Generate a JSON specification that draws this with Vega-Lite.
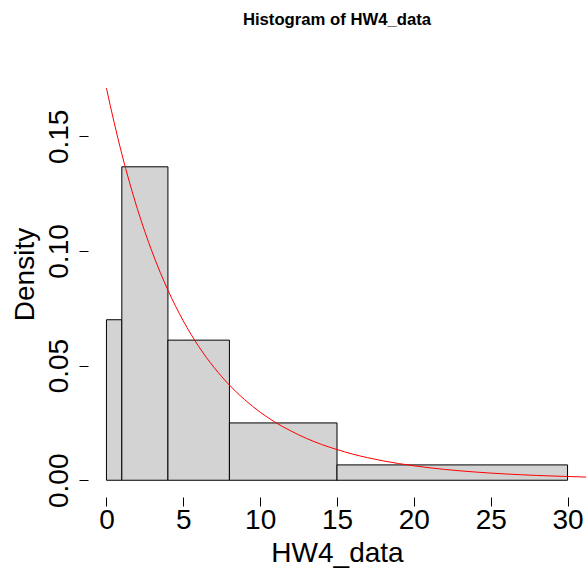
{
  "$schema": "https://vega.github.io/schema/vega-lite/v6.json",
  "autosize": {"type": "none"},
  "padding": {"left": 88, "top": 51, "right": 0, "bottom": 74},
  "width": 498,
  "height": 446,
  "background": "white",
  "config": {
    "view": {"stroke": null},
    "font": "Liberation Sans",
    "axis": {"grid": false, "domain": false, "tickColor": "black", "tickWidth": 1, "tickSize": 9, "labelColor": "black", "titleColor": "black", "labelFont": "Liberation Sans", "titleFont": "Liberation Sans", "labelFontSize": 28, "titleFontSize": 28, "titleFontWeight": "normal"}
  },
  "title": {"text": "Histogram of HW4_data", "anchor": "middle", "frame": "group", "fontSize": 16.7, "fontWeight": "bold", "font": "Liberation Sans", "color": "black", "baseline": "alphabetic", "offset": 9},
  "datasets": {
    "bins": [
      {"lo": 0, "hi": 1, "density": 0.07},
      {"lo": 1, "hi": 4, "density": 0.1367},
      {"lo": 4, "hi": 8, "density": 0.0611},
      {"lo": 8, "hi": 15, "density": 0.025},
      {"lo": 15, "hi": 30, "density": 0.0067}
    ],
    "curve": [
      {"x": 0, "y": 0.171},
      {"x": 0.5, "y": 0.156},
      {"x": 1, "y": 0.1423},
      {"x": 1.5, "y": 0.1299},
      {"x": 2, "y": 0.1186},
      {"x": 3, "y": 0.0991},
      {"x": 4, "y": 0.0829},
      {"x": 5, "y": 0.0695},
      {"x": 6, "y": 0.0584},
      {"x": 7, "y": 0.0492},
      {"x": 8, "y": 0.0415},
      {"x": 9, "y": 0.0351},
      {"x": 10, "y": 0.0297},
      {"x": 11, "y": 0.0252},
      {"x": 12, "y": 0.0215},
      {"x": 13, "y": 0.0183},
      {"x": 14, "y": 0.0156},
      {"x": 15, "y": 0.0134},
      {"x": 16, "y": 0.01144},
      {"x": 17, "y": 0.00983},
      {"x": 18, "y": 0.00846},
      {"x": 19, "y": 0.0073},
      {"x": 20, "y": 0.00631},
      {"x": 21, "y": 0.00546},
      {"x": 22, "y": 0.00474},
      {"x": 23, "y": 0.00412},
      {"x": 24, "y": 0.00359},
      {"x": 25, "y": 0.00313},
      {"x": 26, "y": 0.00274},
      {"x": 27, "y": 0.0024},
      {"x": 28, "y": 0.00211},
      {"x": 29, "y": 0.00186},
      {"x": 30, "y": 0.00164},
      {"x": 31.2, "y": 0.00141}
    ]
  },
  "layer": [
    {
      "data": {"name": "bins"},
      "mark": {"type": "rect", "fill": "#D3D3D3", "stroke": "black", "strokeWidth": 1},
      "encoding": {
        "x": {"field": "lo", "type": "quantitative", "scale": {"domain": [-1.2, 31.2], "nice": false, "zero": false},
              "axis": {"values": [0, 5, 10, 15, 20, 25, 30], "title": "HW4_data", "labelPadding": 0, "labelBaseline": "top", "offset": 0, "titleBaseline": "alphabetic", "titleY": 64.4, "titleX": 249}},
        "x2": {"field": "hi"},
        "y": {"field": "density", "type": "quantitative", "scale": {"domain": [-0.0073, 0.1872], "nice": false, "zero": false},
              "axis": {"values": [0, 0.05, 0.1, 0.15], "format": ".2f", "title": "Density", "labelAngle": -90, "labelAlign": "center", "labelBaseline": "alphabetic", "labelPadding": 12, "titleAngle": -90, "titleBaseline": "alphabetic", "titleX": -54.5, "titleY": 223}},
        "y2": {"datum": 0}
      }
    },
    {
      "data": {"name": "curve"},
      "mark": {"type": "line", "color": "#FF0000", "strokeWidth": 1, "interpolate": "monotone", "clip": true},
      "encoding": {
        "x": {"field": "x", "type": "quantitative"},
        "y": {"field": "y", "type": "quantitative"}
      }
    },
    {
      "mark": {"type": "rule", "color": "black", "strokeWidth": 1},
      "encoding": {
        "x": {"datum": 0},
        "x2": {"datum": 30},
        "y": {"datum": -0.0073}
      }
    },
    {
      "mark": {"type": "rule", "color": "black", "strokeWidth": 1},
      "encoding": {
        "x": {"datum": -1.2},
        "y": {"datum": 0},
        "y2": {"datum": 0.15}
      }
    }
  ]
}
